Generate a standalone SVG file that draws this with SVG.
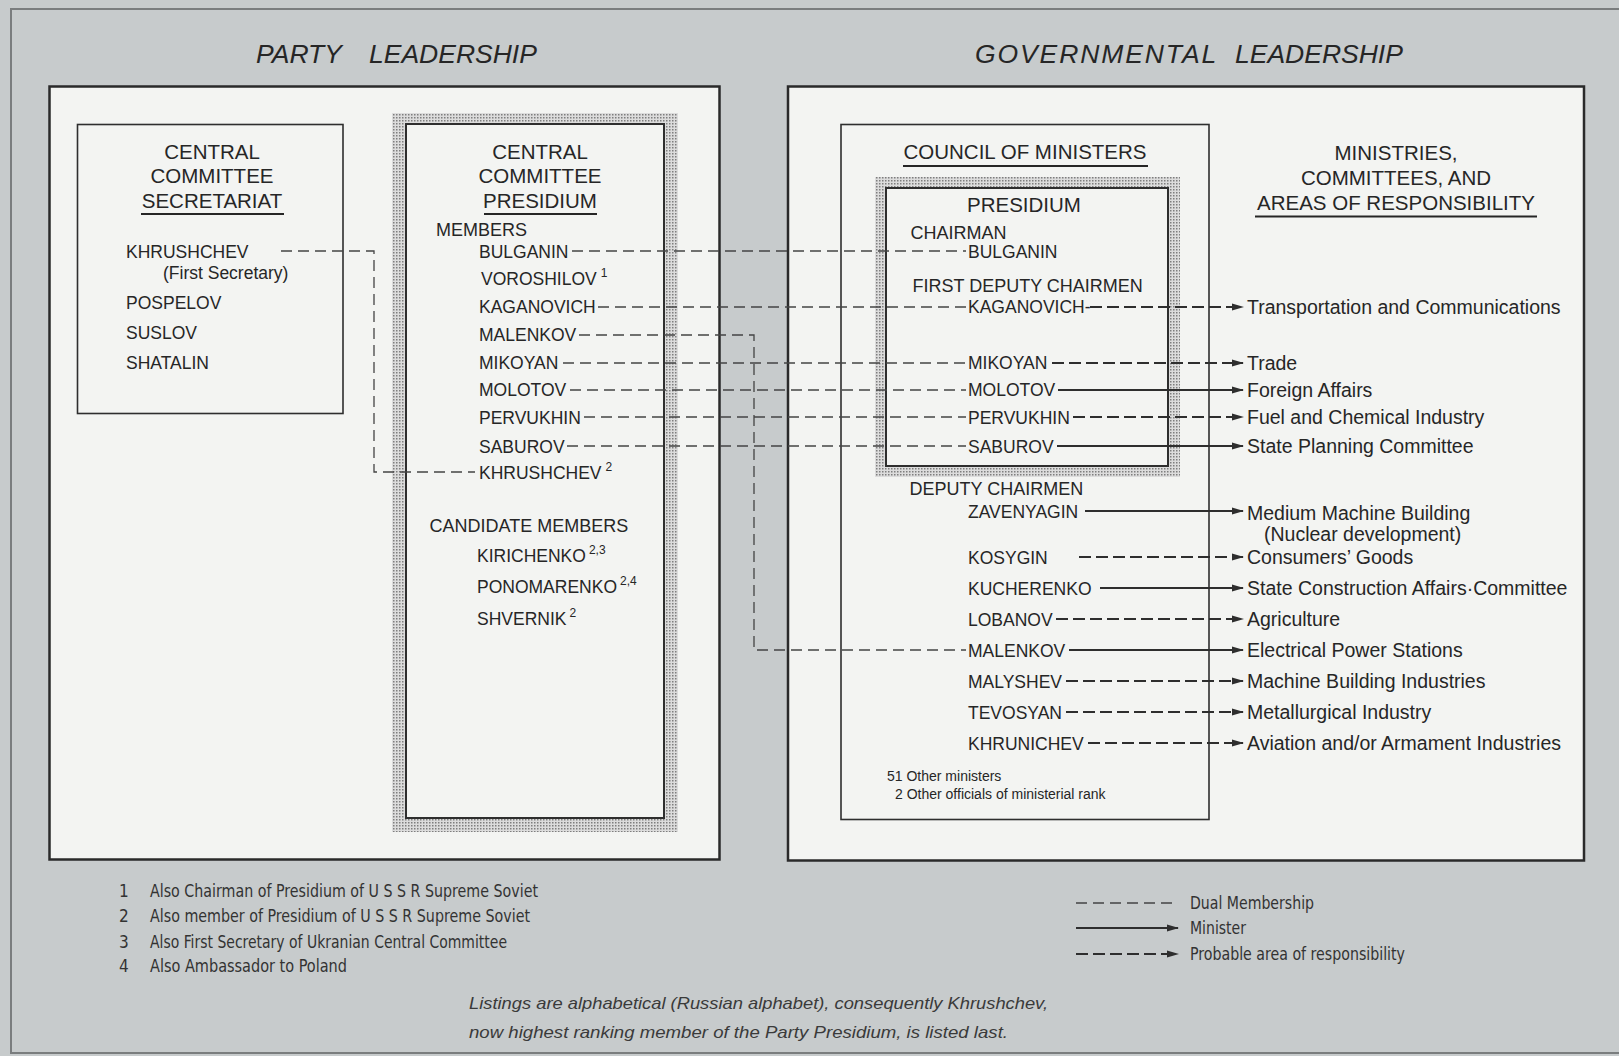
<svg xmlns="http://www.w3.org/2000/svg" width="1619" height="1056" viewBox="0 0 1619 1056">
<defs>
<pattern id="stip" width="3" height="3" patternUnits="userSpaceOnUse">
<rect width="3" height="3" fill="#dcdcdc"/>
<rect width="1.5" height="1.5" fill="#7e7e7e"/>
</pattern>
<marker id="ah" viewBox="0 0 12 8" refX="11" refY="4" markerWidth="12" markerHeight="8" markerUnits="userSpaceOnUse" orient="auto">
<path d="M0,0.6 L12,4 L0,7.4 Z" fill="#2e2e2e"/>
</marker>
<style>
text{font-family:"Liberation Sans",Arial,sans-serif;fill:#262626}
.title{font-size:26.5px;font-style:italic}
.h{font-size:20.5px}
.sh{font-size:18px}
.n{font-size:17.5px}
.sup{font-size:12px}
.lab{font-size:19.5px}
.sm{font-size:14px}
.fn{font-family:"Liberation Sans Narrow","DejaVu Sans Condensed","Liberation Sans",sans-serif;font-size:17px;fill:#333}
.it{font-size:17px;font-style:italic;fill:#3a3a3a}
.panel{fill:#f3f4f2;stroke:#2a2a2a;stroke-width:2.5}
.box{fill:none;stroke:#2e2e2e;stroke-width:1.6}
.inner{fill:#f3f4f2;stroke:#2e2e2e;stroke-width:2}
.ul{stroke:#262626;stroke-width:2}
.dual{fill:none;stroke:#444;stroke-width:1.3;stroke-dasharray:11 6}
.min{fill:none;stroke:#2e2e2e;stroke-width:1.8}
.prob{fill:none;stroke:#2e2e2e;stroke-width:2.2;stroke-dasharray:12 5}
</style>
</defs>

<rect x="0" y="0" width="1619" height="1056" fill="#c7cbcc"/>
<rect x="11" y="9" width="1640" height="1044" fill="none" stroke="#7a7d7e" stroke-width="2"/>

<text class="title" x="256" y="63">PARTY<tspan x="369">LEADERSHIP</tspan></text>
<text class="title" x="975" y="63"><tspan letter-spacing="1.9">GOVERNMENTAL</tspan><tspan x="1235">LEADERSHIP</tspan></text>

<g id="party-panel">
<rect class="panel" x="49.5" y="86.5" width="670" height="773"/>
</g>
<g id="gov-panel">
<rect class="panel" x="788" y="86.5" width="796" height="774"/>
</g>

<g id="secretariat">
<rect class="box" x="77.5" y="124.5" width="265.5" height="289"/>
<text class="h" x="212" y="159" text-anchor="middle">CENTRAL</text>
<text class="h" x="212" y="183" text-anchor="middle">COMMITTEE</text>
<text class="h" x="212" y="207.5" text-anchor="middle">SECRETARIAT</text>
<line class="ul" x1="141" y1="214" x2="284" y2="214"/>
<text class="n" x="126" y="257.5">KHRUSHCHEV</text>
<text class="n" x="163" y="279">(First Secretary)</text>
<text class="n" x="126" y="309">POSPELOV</text>
<text class="n" x="126" y="339">SUSLOV</text>
<text class="n" x="126" y="369">SHATALIN</text>
</g>

<g id="cc-presidium">
<rect x="392" y="113" width="286" height="719" fill="url(#stip)"/>
<rect class="inner" x="406" y="124" width="258" height="694"/>
<text class="h" x="540" y="159" text-anchor="middle">CENTRAL</text>
<text class="h" x="540" y="183" text-anchor="middle">COMMITTEE</text>
<text class="h" x="540" y="207.5" text-anchor="middle">PRESIDIUM</text>
<line class="ul" x1="484" y1="214" x2="597" y2="214"/>
<text class="sh" x="436" y="235.5">MEMBERS</text>
<text class="n" x="479" y="257.5">BULGANIN</text>
<text class="n" x="481" y="285">VOROSHILOV<tspan class="sup" dx="4" dy="-8">1</tspan></text>
<text class="n" x="479" y="313">KAGANOVICH</text>
<text class="n" x="479" y="341">MALENKOV</text>
<text class="n" x="479" y="369">MIKOYAN</text>
<text class="n" x="479" y="395.5">MOLOTOV</text>
<text class="n" x="479" y="423.5">PERVUKHIN</text>
<text class="n" x="479" y="452.5">SABUROV</text>
<text class="n" x="479" y="478.5">KHRUSHCHEV<tspan class="sup" dx="4" dy="-8">2</tspan></text>
<text class="sh" x="429.5" y="532">CANDIDATE MEMBERS</text>
<text class="n" x="477" y="562">KIRICHENKO<tspan class="sup" dx="3" dy="-8">2,3</tspan></text>
<text class="n" x="477" y="593">PONOMARENKO<tspan class="sup" dx="3" dy="-8">2,4</tspan></text>
<text class="n" x="477" y="625">SHVERNIK<tspan class="sup" dx="3" dy="-8">2</tspan></text>
</g>

<g id="council">
<rect class="box" x="841" y="124.5" width="368" height="695"/>
<text class="h" x="1025" y="159" text-anchor="middle">COUNCIL OF MINISTERS</text>
<line class="ul" x1="903" y1="166" x2="1148" y2="166"/>
<text class="sh" x="909.5" y="495">DEPUTY CHAIRMEN</text>
<text class="n" x="968" y="517.5">ZAVENYAGIN</text>
<text class="n" x="968" y="564">KOSYGIN</text>
<text class="n" x="968" y="594.5">KUCHERENKO</text>
<text class="n" x="968" y="625.5">LOBANOV</text>
<text class="n" x="968" y="657">MALENKOV</text>
<text class="n" x="968" y="687.5">MALYSHEV</text>
<text class="n" x="968" y="718.5">TEVOSYAN</text>
<text class="n" x="968" y="749.5">KHRUNICHEV</text>
<text class="sm" x="887" y="781">51 Other ministers</text>
<text class="sm" x="895" y="799">2 Other officials of ministerial rank</text>
</g>

<g id="gov-presidium">
<rect x="875" y="177" width="305" height="300" fill="url(#stip)"/>
<rect class="inner" x="886" y="188" width="282" height="278"/>
<text class="h" x="1024" y="212" text-anchor="middle">PRESIDIUM</text>
<text class="sh" x="910.5" y="239">CHAIRMAN</text>
<text class="n" x="968" y="257.5">BULGANIN</text>
<text class="sh" x="912.5" y="291.5">FIRST DEPUTY CHAIRMEN</text>
<text class="n" x="968" y="313">KAGANOVICH-</text>
<text class="n" x="968" y="369">MIKOYAN</text>
<text class="n" x="968" y="395.5">MOLOTOV</text>
<text class="n" x="968" y="423.5">PERVUKHIN</text>
<text class="n" x="968" y="452.5">SABUROV</text>
</g>

<g id="ministries">
<text class="h" x="1396" y="160" text-anchor="middle">MINISTRIES,</text>
<text class="h" x="1396" y="185" text-anchor="middle">COMMITTEES, AND</text>
<text class="h" x="1396" y="210" text-anchor="middle">AREAS OF RESPONSIBILITY</text>
<line class="ul" x1="1255" y1="216.5" x2="1537" y2="216.5"/>
<text class="lab" x="1247" y="314">Transportation and Communications</text>
<text class="lab" x="1247" y="370">Trade</text>
<text class="lab" x="1247" y="397">Foreign Affairs</text>
<text class="lab" x="1247" y="424">Fuel and Chemical  Industry</text>
<text class="lab" x="1247" y="453">State Planning Committee</text>
<text class="lab" x="1247" y="520">Medium Machine Building</text>
<text class="lab" x="1264" y="541">(Nuclear development)</text>
<text class="lab" x="1247" y="564">Consumers’ Goods</text>
<text class="lab" x="1247" y="595">State Construction Affairs·Committee</text>
<text class="lab" x="1247" y="626">Agriculture</text>
<text class="lab" x="1247" y="657">Electrical Power Stations</text>
<text class="lab" x="1247" y="688">Machine Building Industries</text>
<text class="lab" x="1247" y="719">Metallurgical Industry</text>
<text class="lab" x="1247" y="750">Aviation and/or Armament Industries</text>
</g>

<g id="connectors">
<path class="dual" d="M281 251 H374 V472 H475"/>
<path class="dual" d="M572 251 H966"/>
<path class="dual" d="M598 307 H966"/>
<path class="dual" d="M579 335 H754 V650 H966"/>
<path class="dual" d="M563 363 H966"/>
<path class="dual" d="M570 390 H966"/>
<path class="dual" d="M584 417 H966"/>
<path class="dual" d="M567 446 H966"/>

<path class="prob" d="M1090 307 H1243" marker-end="url(#ah)"/>
<path class="prob" d="M1052 363 H1243" marker-end="url(#ah)"/>
<path class="min" d="M1058 390 H1243" marker-end="url(#ah)"/>
<path class="prob" d="M1073 417 H1243" marker-end="url(#ah)"/>
<path class="min" d="M1057 446 H1243" marker-end="url(#ah)"/>
<path class="min" d="M1085 511 H1243" marker-end="url(#ah)"/>
<path class="prob" d="M1079 557 H1243" marker-end="url(#ah)"/>
<path class="min" d="M1100 588 H1243" marker-end="url(#ah)"/>
<path class="prob" d="M1056 619 H1243" marker-end="url(#ah)"/>
<path class="min" d="M1069 650 H1243" marker-end="url(#ah)"/>
<path class="prob" d="M1066 681 H1243" marker-end="url(#ah)"/>
<path class="prob" d="M1066 712 H1243" marker-end="url(#ah)"/>
<path class="prob" d="M1088 743 H1243" marker-end="url(#ah)"/>
</g>

<g id="footnotes">
<text class="fn" x="119" y="897">1</text>
<text class="fn" x="150" y="897" textLength="388" lengthAdjust="spacingAndGlyphs">Also Chairman of Presidium of U S S R  Supreme Soviet</text>
<text class="fn" x="119" y="922">2</text>
<text class="fn" x="150" y="922" textLength="380" lengthAdjust="spacingAndGlyphs">Also member of Presidium of U S S R  Supreme Soviet</text>
<text class="fn" x="119" y="948">3</text>
<text class="fn" x="150" y="948" textLength="357" lengthAdjust="spacingAndGlyphs">Also First Secretary of Ukranian Central Committee</text>
<text class="fn" x="119" y="972">4</text>
<text class="fn" x="150" y="972" textLength="197" lengthAdjust="spacingAndGlyphs">Also Ambassador to Poland</text>
</g>

<g id="legend">
<path class="dual" d="M1076 903 H1172"/>
<text class="fn" x="1190" y="909" textLength="124" lengthAdjust="spacingAndGlyphs">Dual Membership</text>
<path class="min" d="M1076 928 H1178" marker-end="url(#ah)"/>
<text class="fn" x="1190" y="934" textLength="56" lengthAdjust="spacingAndGlyphs">Minister</text>
<path class="prob" d="M1076 954 H1178" marker-end="url(#ah)"/>
<text class="fn" x="1190" y="960" textLength="215" lengthAdjust="spacingAndGlyphs">Probable area of responsibility</text>
</g>

<g id="note">
<text class="it" x="469" y="1009" textLength="579" lengthAdjust="spacingAndGlyphs">Listings are alphabetical (Russian alphabet), consequently Khrushchev,</text>
<text class="it" x="469" y="1038" textLength="539" lengthAdjust="spacingAndGlyphs">now highest ranking member of the Party Presidium, is listed last.</text>
</g>
</svg>
